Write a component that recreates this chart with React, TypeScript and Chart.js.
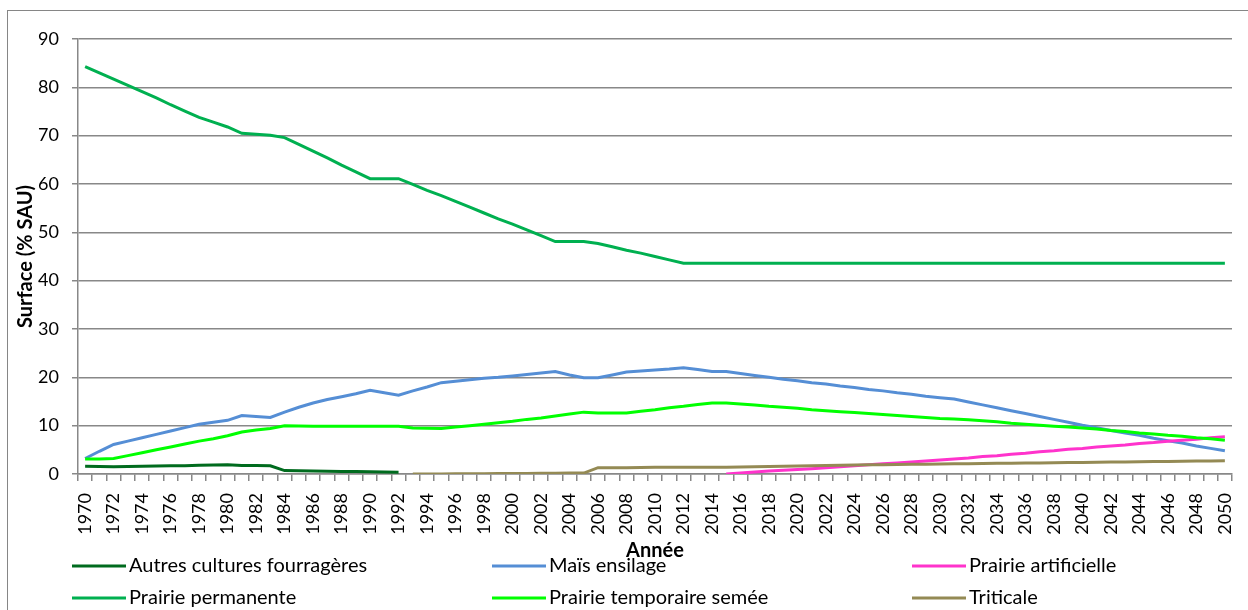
import React, { useEffect, useRef } from "react";
import { Chart, registerables } from "chart.js";

Chart.register(...registerables);

const years: string[] = [
  "1970", "1971", "1972", "1973", "1974", "1975", "1976", "1977", "1978", "1979",
  "1980", "1981", "1982", "1983", "1984", "1985", "1986", "1987", "1988", "1989",
  "1990", "1991", "1992", "1993", "1994", "1995", "1996", "1997", "1998", "1999",
  "2000", "2001", "2002", "2003", "2004", "2005", "2006", "2007", "2008", "2009",
  "2010", "2011", "2012", "2013", "2014", "2015", "2016", "2017", "2018", "2019",
  "2020", "2021", "2022", "2023", "2024", "2025", "2026", "2027", "2028", "2029",
  "2030", "2031", "2032", "2033", "2034", "2035", "2036", "2037", "2038", "2039",
  "2040", "2041", "2042", "2043", "2044", "2045", "2046", "2047", "2048", "2049",
  "2050",
];

const seriesNames: string[] = [
  "Autres cultures fourragères",
  "Maïs ensilage",
  "Prairie artificielle",
  "Prairie permanente",
  "Prairie temporaire semée",
  "Triticale",
];

const seriesColors: string[] = ["#006B1E", "#558ED5", "#FF33CC", "#00B050", "#00FF00", "#948A54"];

type V = number | null;

const autresCultures: V[] = [
  1.6, 1.55, 1.5, 1.55, 1.6, 1.65, 1.7, 1.7, 1.8, 1.85,
  1.9, 1.75, 1.75, 1.7, 0.7, 0.65, 0.6, 0.55, 0.5, 0.5,
  0.45, 0.4, 0.35, null, null, null, null, null, null, null,
  null, null, null, null, null, null, null, null, null, null,
  null, null, null, null, null, null, null, null, null, null,
  null, null, null, null, null, null, null, null, null, null,
  null, null, null, null, null, null, null, null, null, null,
  null, null, null, null, null, null, null, null, null, null,
  null,
];

const maisEnsilage: V[] = [
  3.2, 4.7, 6.1, 6.8, 7.5, 8.2, 8.9, 9.6, 10.3, 10.7,
  11.1, 12.1, 11.9, 11.7, 12.8, 13.8, 14.7, 15.4, 16.0, 16.6,
  17.3, 16.8, 16.3, 17.2, 18.0, 18.9, 19.2, 19.5, 19.8, 20.0,
  20.3, 20.6, 20.9, 21.2, 20.5, 19.9, 19.9, 20.5, 21.1, 21.3,
  21.5, 21.7, 22.0, 21.6, 21.2, 21.2, 20.8, 20.4, 20.0, 19.6,
  19.3, 18.9, 18.6, 18.2, 17.9, 17.5, 17.2, 16.8, 16.5, 16.1,
  15.8, 15.5, 14.9, 14.3, 13.7, 13.1, 12.5, 11.9, 11.3, 10.7,
  10.1, 9.6, 9.0, 8.5, 8.0, 7.4, 6.9, 6.4, 5.8, 5.3,
  4.8,
];

const prairieArtificielle: V[] = [
  null, null, null, null, null, null, null, null, null, null,
  null, null, null, null, null, null, null, null, null, null,
  null, null, null, null, null, null, null, null, null, null,
  null, null, null, null, null, null, null, null, null, null,
  null, null, null, null, null, 0.0, 0.2, 0.4, 0.6, 0.8,
  0.95, 1.1, 1.3, 1.5, 1.7, 1.9, 2.1, 2.3, 2.5, 2.7,
  2.9, 3.1, 3.3, 3.6, 3.8, 4.1, 4.3, 4.6, 4.8, 5.1,
  5.3, 5.6, 5.8, 6.0, 6.3, 6.5, 6.8, 7.0, 7.2, 7.5,
  7.7,
];

const prairiePermanente: V[] = [
  84.3, 83.0, 81.7, 80.4, 79.1, 77.8, 76.4, 75.1, 73.8, 72.8,
  71.8, 70.5, 70.3, 70.1, 69.6, 68.2, 66.8, 65.4, 63.9, 62.5,
  61.1, 61.1, 61.1, 59.9, 58.7, 57.6, 56.4, 55.2, 54.0, 52.8,
  51.7, 50.5, 49.3, 48.1, 48.1, 48.1, 47.7, 47.0, 46.3, 45.7,
  45.0, 44.3, 43.6, 43.6, 43.6, 43.6, 43.6, 43.6, 43.6, 43.6,
  43.6, 43.6, 43.6, 43.6, 43.6, 43.6, 43.6, 43.6, 43.6, 43.6,
  43.6, 43.6, 43.6, 43.6, 43.6, 43.6, 43.6, 43.6, 43.6, 43.6,
  43.6, 43.6, 43.6, 43.6, 43.6, 43.6, 43.6, 43.6, 43.6, 43.6,
  43.6,
];

const prairieTemporaire: V[] = [
  3.1, 3.1, 3.2, 3.8, 4.4, 5.0, 5.6, 6.2, 6.8, 7.3,
  7.9, 8.7, 9.1, 9.4, 10.0, 9.95, 9.9, 9.9, 9.9, 9.9,
  9.9, 9.9, 9.9, 9.5, 9.45, 9.4, 9.7, 10.0, 10.3, 10.6,
  10.9, 11.3, 11.6, 12.0, 12.4, 12.8, 12.6, 12.6, 12.6, 13.0,
  13.3, 13.7, 14.0, 14.4, 14.7, 14.7, 14.5, 14.3, 14.0, 13.8,
  13.6, 13.3, 13.1, 12.9, 12.7, 12.5, 12.3, 12.1, 11.9, 11.7,
  11.5, 11.4, 11.2, 11.0, 10.8, 10.5, 10.3, 10.1, 9.9, 9.7,
  9.5, 9.3, 9.0, 8.8, 8.5, 8.3, 8.0, 7.8, 7.5, 7.3,
  7.0,
];

const triticale: V[] = [
  null, null, null, null, null, null, null, null, null, null,
  null, null, null, null, null, null, null, null, null, null,
  null, null, null, 0.0, 0.0, 0.0, 0.05, 0.05, 0.05, 0.1,
  0.1, 0.1, 0.15, 0.15, 0.2, 0.2, 1.3, 1.3, 1.3, 1.35,
  1.4, 1.4, 1.4, 1.4, 1.4, 1.4, 1.45, 1.5, 1.55, 1.6,
  1.65, 1.7, 1.75, 1.8, 1.85, 1.9, 1.93, 1.97, 2.0, 2.03,
  2.07, 2.1, 2.13, 2.17, 2.2, 2.23, 2.27, 2.3, 2.33, 2.37,
  2.4, 2.43, 2.47, 2.5, 2.53, 2.57, 2.6, 2.63, 2.67, 2.7,
  2.75,
];

const seriesValues: V[][] = [
  autresCultures,
  maisEnsilage,
  prairieArtificielle,
  prairiePermanente,
  prairieTemporaire,
  triticale,
];

const FONT = "Lato, 'Open Sans', sans-serif";
const GRID = "#888888";

const columnLegend = {
  id: "columnLegend",
  afterDraw(chart: any) {
    const ctx = chart.ctx as CanvasRenderingContext2D;
    const cols = [72, 492, 912];
    const rows = [566, 598];
    chart.data.datasets.forEach((ds: any, i: number) => {
      const x = cols[i % 3];
      const y = rows[Math.floor(i / 3)];
      ctx.save();
      ctx.strokeStyle = ds.borderColor;
      ctx.lineWidth = 3;
      ctx.beginPath();
      ctx.moveTo(x, y);
      ctx.lineTo(x + 54, y);
      ctx.stroke();
      ctx.fillStyle = "#000";
      ctx.font = `20px ${FONT}`;
      ctx.textBaseline = "middle";
      ctx.textAlign = "left";
      ctx.fillText(ds.label, x + 57, y);
      ctx.restore();
    });
  },
};

export default function App() {
  const canvasRef = useRef<HTMLCanvasElement | null>(null);

  useEffect(() => {
    if (!canvasRef.current) return;
    const n = seriesNames.length;
    const chart = new Chart(canvasRef.current, {
      type: "line",
      data: {
        labels: years,
        datasets: seriesNames.map((name, i) => ({
          label: name,
          data: seriesValues[i],
          borderColor: seriesColors[i],
          backgroundColor: seriesColors[i],
          borderWidth: 3,
          pointRadius: 0,
          pointHoverRadius: 0,
          tension: 0,
          fill: false,
          spanGaps: false,
          order: n - i,
        })),
      },
      options: {
        responsive: false,
        animation: false,
        layout: { padding: { left: 8, right: 16, top: 39, bottom: 47 } },
        plugins: {
          legend: { display: false },
          tooltip: { enabled: false },
        },
        scales: {
          x: {
            type: "category",
            offset: true,
            afterFit: (s: any) => {
              s.height = 89;
              s.paddingLeft = 0;
              s.paddingRight = 0;
            },
            grid: {
              offset: true,
              drawOnChartArea: false,
              drawTicks: true,
              tickLength: 7,
              color: GRID,
              lineWidth: 1.5,
            },
            border: { display: true, color: GRID, width: 1.5 },
            ticks: {
              autoSkip: false,
              maxRotation: 90,
              minRotation: 90,
              padding: 12,
              color: "#000",
              font: { family: FONT, size: 18 },
              callback: (_v: any, idx: number) => (idx % 2 === 0 ? years[idx] : ""),
            },
            title: {
              display: true,
              text: "Année",
              color: "#000",
              font: { family: FONT, size: 20, weight: "bold" },
              padding: { top: 0, bottom: 0 },
            },
          },
          y: {
            min: 0,
            max: 90,
            afterFit: (s: any) => {
              s.width = 70;
              s.paddingTop = 0;
              s.paddingBottom = 0;
            },
            grid: {
              color: GRID,
              lineWidth: 1.5,
              drawTicks: true,
              tickLength: 6,
            },
            border: { display: true, color: GRID, width: 1.5 },
            ticks: {
              stepSize: 10,
              padding: 13,
              color: "#000",
              font: { family: FONT, size: 18 },
            },
            title: {
              display: true,
              text: "Surface (% SAU)",
              color: "#000",
              font: { family: FONT, size: 20, weight: "bold" },
              padding: { top: 6, bottom: 0 },
            },
          },
        },
      },
      plugins: [columnLegend],
    });
    return () => chart.destroy();
  }, []);

  return (
    <div
      style={{
        position: "fixed",
        left: 0,
        top: 0,
        width: 1248,
        height: 610,
        overflow: "hidden",
        background: "#fff",
      }}
    >
      <div
        style={{
          position: "absolute",
          left: 7,
          top: 10,
          width: 1260,
          height: 620,
          border: "1px solid #868686",
        }}
      />
      <canvas
        ref={canvasRef}
        width={1248}
        height={610}
        style={{ position: "absolute", left: 0, top: 0, width: 1248, height: 610 }}
      />
    </div>
  );
}
